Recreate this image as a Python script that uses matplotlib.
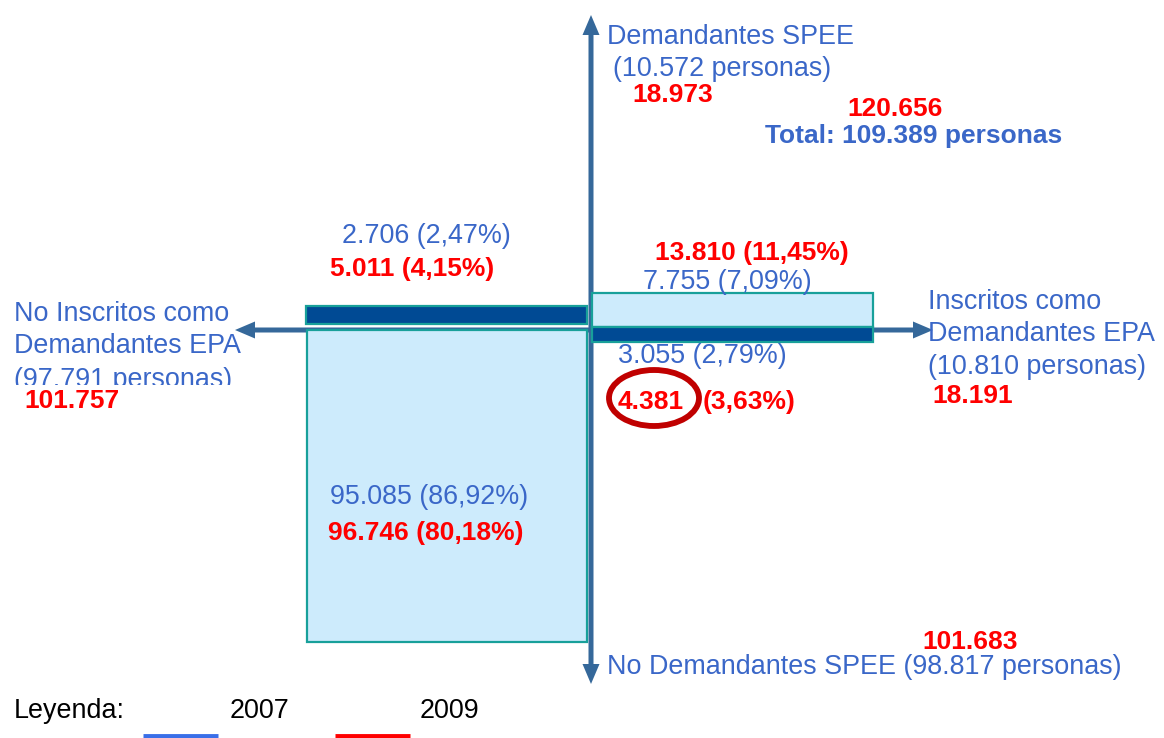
import matplotlib.pyplot as plt
from matplotlib.patches import Rectangle, Ellipse

# --- datos ---
years = ["2007", "2009"]
total = [109389, 120656]
spee = [10572, 18973]          # demandantes SPEE
no_spee = [98817, 101683]      # no demandantes SPEE
epa = [10810, 18191]           # inscritos como demandantes EPA
no_epa = [97791, 101757]       # no inscritos como demandantes EPA
# cuadrantes: (SPEE y no EPA), (SPEE y EPA), (no SPEE y EPA), (no SPEE y no EPA)
q_spee_noepa = [2706, 5011]
q_spee_epa = [7755, 13810]
q_nospee_epa = [3055, 4381]
q_nospee_noepa = [95085, 96746]

BLUE = "#3a67c8"
RED = "#ff0000"
AXIS = "#35689a"
DARK = "#004a94"
LIGHT = "#cdebfc"
EDGE = "#18a09a"
FS = 19.4
FSB = 19.0

plt.rcParams["font.family"] = ["Liberation Sans", "DejaVu Sans"]


def num(v):
    return f"{v:,}".replace(",", ".")


def pct(v, t):
    return f"{100 * v / t:.2f}".replace(".", ",")


def q(v, i):
    return f"{num(v[i])} ({pct(v[i], total[i])}%)"


fig = plt.figure(figsize=(11.64, 7.38), dpi=100)
ax = fig.add_axes([0, 0, 1, 1])
ax.set_xlim(0, 1164)
ax.set_ylim(738, 0)
ax.axis("off")

# --- ejes con flechas ---
cx, cy = 591, 330
kw = dict(width=5, head_width=17, head_length=20, length_includes_head=True,
          color=AXIS, lw=0, zorder=1)
ax.arrow(cx, cy, 0, 15 - cy, **kw)
ax.arrow(cx, cy, 0, 684 - cy, **kw)
ax.arrow(cx, cy, 235 - cx, 0, **kw)
ax.arrow(cx, cy, 933 - cx, 0, **kw)

# --- cajas ---
boxes = [
    (306, 306, 281, 18, DARK),
    (307, 330, 280, 312, LIGHT),
    (592, 293, 281, 34, LIGHT),
    (592, 327, 281, 15, DARK),
]
for x, y, w, h, c in boxes:
    ax.add_patch(Rectangle((x, y), w, h, facecolor=c, edgecolor=EDGE, lw=1.6, zorder=2))

# --- textos ---
def t(x, y, s, color=BLUE, bold=False, **extra):
    return ax.text(x, y, s, color=color, fontsize=FSB if bold else FS,
                   va="center", ha="left",
                   fontweight="bold" if bold else "normal", zorder=3, **extra)

t(607, 37, "Demandantes SPEE")
t(613, 69, f"({num(spee[0])} personas)")
t(632, 95, num(spee[1]), RED, True)
t(847, 109, num(total[1]), RED, True)
t(765, 136, f"Total: {num(total[0])} personas", bold=True)

t(342, 236, q(q_spee_noepa, 0))
t(330, 269, q(q_spee_noepa, 1), RED, True)
t(655, 253, q(q_spee_epa, 1), RED, True)
t(643, 282, q(q_spee_epa, 0))

t(14, 314, "No Inscritos como")
t(14, 346, "Demandantes EPA")
clipped = t(14, 380, f"({num(no_epa[0])} personas)")
clip = Rectangle((0, 300), 300, 85, transform=ax.transData)
clipped.set_clip_path(clip)
clipped.set_clip_on(True)
t(24, 401, num(no_epa[1]), RED, True)

t(618, 356, q(q_nospee_epa, 0))
t(618, 402, num(q_nospee_epa[1]), RED, True)
t(703, 402, f"({pct(q_nospee_epa[1], total[1])}%)", RED, True)
ax.add_patch(Ellipse((654, 398), 90, 56, facecolor="none", edgecolor="#c00000",
                     lw=4.2, zorder=4))

t(928, 302, "Inscritos como")
t(928, 334, "Demandantes EPA")
t(928, 367, f"({num(epa[0])} personas)")
t(932, 396, num(epa[1]), RED, True)

t(330, 497, q(q_nospee_noepa, 0))
t(328, 533, q(q_nospee_noepa, 1), RED, True)

t(922, 642, num(no_spee[1]), RED, True)
t(607, 667, f"No Demandantes SPEE ({num(no_spee[0])} personas)")

# --- leyenda ---
t(14, 711, "Leyenda:", color="black")
t(230, 711, years[0], color="black")
t(420, 711, years[1], color="black")
ax.plot([143, 218], [736, 736], color="#3a6fe8", lw=3.5, solid_capstyle="butt")
ax.plot([335, 410], [736, 736], color=RED, lw=3.5, solid_capstyle="butt")

fig.savefig("out.png", dpi=100)
